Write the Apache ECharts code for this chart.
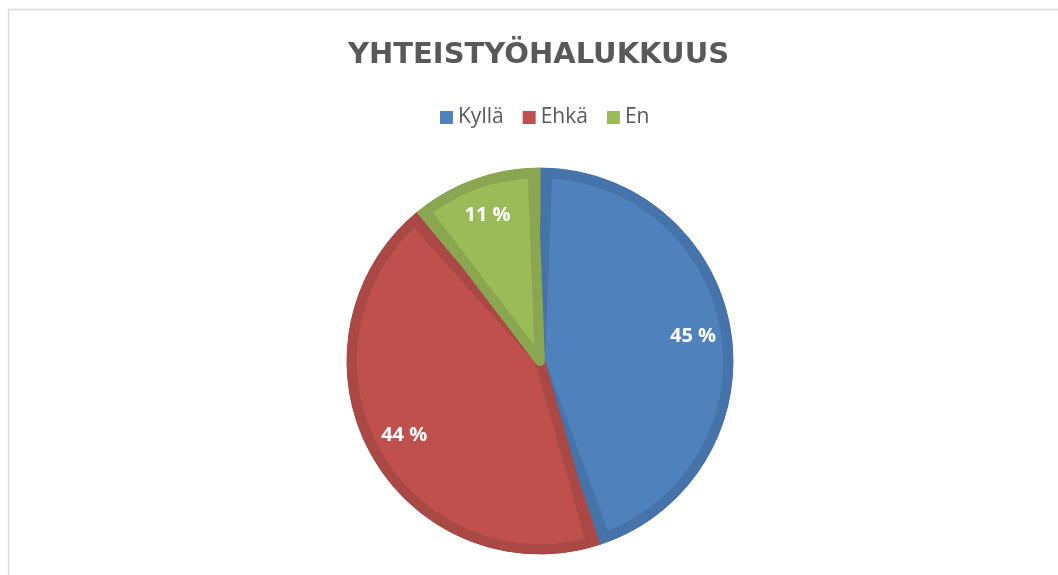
<!DOCTYPE html>
<html>
<head>
<meta charset="utf-8">
<script src="https://cdn.jsdelivr.net/npm/echarts@6/dist/echarts.min.js"></script>
<style>
  html, body { margin: 0; padding: 0; background: #fff; }
  #chart { width: 1058px; height: 575px; }
</style>
</head>
<body>
<div id="chart"></div>
<script>
const categories = ['Kyllä', 'Ehkä', 'En'];
const values = [45, 44, 11];
const fills = ['#4F81BD', '#C0504D', '#9BBB59'];
const strokes = ['#4674AA', '#AA4845', '#8AA651'];

const chart = echarts.init(document.getElementById('chart'));
const center = [540, 361];

chart.setOption({
  animation: false,
  title: {
    text: 'YHTEISTYÖHALUKKUUS',
    left: 343,
    top: 36,
    textStyle: { fontFamily: 'DejaVu Sans', fontWeight: 'bold', fontSize: 29, color: '#595959' }
  },
  legend: {
    top: 102,
    left: 435,
    icon: 'rect',
    itemWidth: 13,
    itemHeight: 13,
    itemGap: 19,
    itemStyle: { borderWidth: 0 },
    textStyle: { fontFamily: 'Open Sans', fontSize: 21, color: '#595959' },
    data: categories.map((name, i) => ({ name, itemStyle: { color: fills[i] } }))
  },
  graphic: [{
    type: 'rect',
    shape: { x: 8.5, y: 9.5, width: 1100, height: 700 },
    style: { fill: 'none', stroke: '#d9d9d9', lineWidth: 1.5 },
    silent: true
  }],
  series: [
    {
      // slice fills, inset from the darker outline
      type: 'pie',
      z: 3,
      center,
      radius: 188,
      startAngle: 90,
      padAngle: 4.5,
      label: { show: false },
      labelLine: { show: false },
      emphasis: { disabled: true },
      data: categories.map((name, i) => ({
        name, value: values[i],
        itemStyle: { color: fills[i], borderColor: strokes[i], borderWidth: 10, borderJoin: 'round' }
      }))
    },
    {
      // darker outline underneath
      type: 'pie',
      z: 2,
      center,
      radius: 193,
      startAngle: 90,
      silent: true,
      label: { show: false },
      labelLine: { show: false },
      emphasis: { disabled: true },
      data: categories.map((name, i) => ({
        name, value: values[i],
        itemStyle: { color: strokes[i], borderColor: strokes[i], borderWidth: 1 }
      }))
    },
    {
      // percentage labels
      type: 'pie',
      z: 4,
      center,
      radius: [114, 190],
      startAngle: 90,
      silent: true,
      itemStyle: { color: 'transparent' },
      label: {
        show: true,
        position: 'inside',
        formatter: p => p.value + ' %',
        fontFamily: 'Open Sans',
        fontWeight: 'bold',
        fontSize: 20,
        color: '#fff'
      },
      labelLine: { show: false },
      emphasis: { disabled: true },
      data: categories.map((name, i) => ({ name, value: values[i] }))
    }
  ]
});
</script>
</body>
</html>
